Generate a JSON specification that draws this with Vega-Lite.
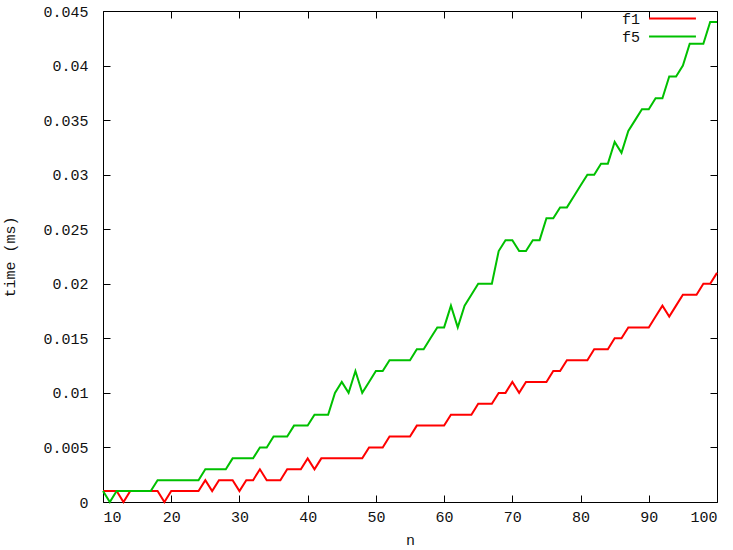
{
  "$schema": "https://vega.github.io/schema/vega-lite/v6.json",
  "width": 614,
  "height": 491,
  "autosize": "none",
  "padding": {"left": 103, "top": 11, "right": 16, "bottom": 48},
  "background": "white",
  "config": {
    "view": {"stroke": "#000", "strokeWidth": 1},
    "font": "Liberation Mono",
    "axis": {
      "grid": false,
      "domain": false,
      "tickColor": "#000",
      "tickSize": -7,
      "tickWidth": 1,
      "labelFont": "Liberation Mono",
      "labelFontSize": 15,
      "labelColor": "#111",
      "titleFont": "Liberation Mono",
      "titleFontSize": 15,
      "titleFontWeight": "normal",
      "titleColor": "#111"
    },
    "legend": {
      "labelFont": "Liberation Mono",
      "labelFontSize": 15,
      "labelColor": "#111"
    }
  },
  "data": {
    "values": [
      {"n": 10, "f1": 0.001, "f5": 0.001},
      {"n": 11, "f1": 0.001, "f5": 0},
      {"n": 12, "f1": 0.001, "f5": 0.001},
      {"n": 13, "f1": 0, "f5": 0.001},
      {"n": 14, "f1": 0.001, "f5": 0.001},
      {"n": 15, "f1": 0.001, "f5": 0.001},
      {"n": 16, "f1": 0.001, "f5": 0.001},
      {"n": 17, "f1": 0.001, "f5": 0.001},
      {"n": 18, "f1": 0.001, "f5": 0.002},
      {"n": 19, "f1": 0, "f5": 0.002},
      {"n": 20, "f1": 0.001, "f5": 0.002},
      {"n": 21, "f1": 0.001, "f5": 0.002},
      {"n": 22, "f1": 0.001, "f5": 0.002},
      {"n": 23, "f1": 0.001, "f5": 0.002},
      {"n": 24, "f1": 0.001, "f5": 0.002},
      {"n": 25, "f1": 0.002, "f5": 0.003},
      {"n": 26, "f1": 0.001, "f5": 0.003},
      {"n": 27, "f1": 0.002, "f5": 0.003},
      {"n": 28, "f1": 0.002, "f5": 0.003},
      {"n": 29, "f1": 0.002, "f5": 0.004},
      {"n": 30, "f1": 0.001, "f5": 0.004},
      {"n": 31, "f1": 0.002, "f5": 0.004},
      {"n": 32, "f1": 0.002, "f5": 0.004},
      {"n": 33, "f1": 0.003, "f5": 0.005},
      {"n": 34, "f1": 0.002, "f5": 0.005},
      {"n": 35, "f1": 0.002, "f5": 0.006},
      {"n": 36, "f1": 0.002, "f5": 0.006},
      {"n": 37, "f1": 0.003, "f5": 0.006},
      {"n": 38, "f1": 0.003, "f5": 0.007},
      {"n": 39, "f1": 0.003, "f5": 0.007},
      {"n": 40, "f1": 0.004, "f5": 0.007},
      {"n": 41, "f1": 0.003, "f5": 0.008},
      {"n": 42, "f1": 0.004, "f5": 0.008},
      {"n": 43, "f1": 0.004, "f5": 0.008},
      {"n": 44, "f1": 0.004, "f5": 0.010},
      {"n": 45, "f1": 0.004, "f5": 0.011},
      {"n": 46, "f1": 0.004, "f5": 0.010},
      {"n": 47, "f1": 0.004, "f5": 0.012},
      {"n": 48, "f1": 0.004, "f5": 0.010},
      {"n": 49, "f1": 0.005, "f5": 0.011},
      {"n": 50, "f1": 0.005, "f5": 0.012},
      {"n": 51, "f1": 0.005, "f5": 0.012},
      {"n": 52, "f1": 0.006, "f5": 0.013},
      {"n": 53, "f1": 0.006, "f5": 0.013},
      {"n": 54, "f1": 0.006, "f5": 0.013},
      {"n": 55, "f1": 0.006, "f5": 0.013},
      {"n": 56, "f1": 0.007, "f5": 0.014},
      {"n": 57, "f1": 0.007, "f5": 0.014},
      {"n": 58, "f1": 0.007, "f5": 0.015},
      {"n": 59, "f1": 0.007, "f5": 0.016},
      {"n": 60, "f1": 0.007, "f5": 0.016},
      {"n": 61, "f1": 0.008, "f5": 0.018},
      {"n": 62, "f1": 0.008, "f5": 0.016},
      {"n": 63, "f1": 0.008, "f5": 0.018},
      {"n": 64, "f1": 0.008, "f5": 0.019},
      {"n": 65, "f1": 0.009, "f5": 0.020},
      {"n": 66, "f1": 0.009, "f5": 0.020},
      {"n": 67, "f1": 0.009, "f5": 0.020},
      {"n": 68, "f1": 0.010, "f5": 0.023},
      {"n": 69, "f1": 0.010, "f5": 0.024},
      {"n": 70, "f1": 0.011, "f5": 0.024},
      {"n": 71, "f1": 0.010, "f5": 0.023},
      {"n": 72, "f1": 0.011, "f5": 0.023},
      {"n": 73, "f1": 0.011, "f5": 0.024},
      {"n": 74, "f1": 0.011, "f5": 0.024},
      {"n": 75, "f1": 0.011, "f5": 0.026},
      {"n": 76, "f1": 0.012, "f5": 0.026},
      {"n": 77, "f1": 0.012, "f5": 0.027},
      {"n": 78, "f1": 0.013, "f5": 0.027},
      {"n": 79, "f1": 0.013, "f5": 0.028},
      {"n": 80, "f1": 0.013, "f5": 0.029},
      {"n": 81, "f1": 0.013, "f5": 0.030},
      {"n": 82, "f1": 0.014, "f5": 0.030},
      {"n": 83, "f1": 0.014, "f5": 0.031},
      {"n": 84, "f1": 0.014, "f5": 0.031},
      {"n": 85, "f1": 0.015, "f5": 0.033},
      {"n": 86, "f1": 0.015, "f5": 0.032},
      {"n": 87, "f1": 0.016, "f5": 0.034},
      {"n": 88, "f1": 0.016, "f5": 0.035},
      {"n": 89, "f1": 0.016, "f5": 0.036},
      {"n": 90, "f1": 0.016, "f5": 0.036},
      {"n": 91, "f1": 0.017, "f5": 0.037},
      {"n": 92, "f1": 0.018, "f5": 0.037},
      {"n": 93, "f1": 0.017, "f5": 0.039},
      {"n": 94, "f1": 0.018, "f5": 0.039},
      {"n": 95, "f1": 0.019, "f5": 0.040},
      {"n": 96, "f1": 0.019, "f5": 0.042},
      {"n": 97, "f1": 0.019, "f5": 0.042},
      {"n": 98, "f1": 0.020, "f5": 0.042},
      {"n": 99, "f1": 0.020, "f5": 0.044},
      {"n": 100, "f1": 0.021, "f5": 0.044}
    ]
  },
  "transform": [{"fold": ["f1", "f5"], "as": ["series", "time"]}],
  "layer": [
    {
      "mark": {"type": "line", "opacity": 0},
      "encoding": {
        "x": {
          "field": "n", "type": "quantitative",
          "scale": {"domain": [10, 100], "nice": false, "zero": false},
          "axis": {"orient": "top", "labels": false, "title": null, "values": [10, 20, 30, 40, 50, 60, 70, 80, 90, 100]}
        },
        "y": {
          "field": "time", "type": "quantitative",
          "scale": {"domain": [0, 0.045], "nice": false},
          "axis": {"orient": "right", "labels": false, "title": null, "values": [0, 0.005, 0.01, 0.015, 0.02, 0.025, 0.03, 0.035, 0.04, 0.045]}
        },
        "detail": {"field": "series"}
      }
    },
    {
      "mark": {"type": "line", "strokeWidth": 2},
      "encoding": {
        "x": {
          "field": "n", "type": "quantitative",
          "scale": {"domain": [10, 100], "nice": false, "zero": false},
          "axis": {"orient": "bottom", "title": "n", "values": [10, 20, 30, 40, 50, 60, 70, 80, 90, 100], "labelPadding": 14, "titlePadding": 8}
        },
        "y": {
          "field": "time", "type": "quantitative",
          "scale": {"domain": [0, 0.045], "nice": false},
          "axis": {"orient": "left", "title": "time (ms)", "format": "~g", "values": [0, 0.005, 0.01, 0.015, 0.02, 0.025, 0.03, 0.035, 0.04, 0.045], "labelPadding": 22, "titlePadding": 25}
        },
        "color": {
          "field": "series", "type": "nominal",
          "scale": {"domain": ["f1", "f5"], "range": ["#ff0000", "#00c000"]},
          "legend": {
            "title": null,
            "orient": "none",
            "legendX": 562,
            "legendY": 0,
            "symbolType": "M-5,0H5",
            "symbolSize": 88,
            "symbolStrokeWidth": 2,
            "labelAlign": "right",
            "labelOffset": -40,
            "rowPadding": 2,
            "padding": 0
          }
        }
      }
    }
  ]
}
